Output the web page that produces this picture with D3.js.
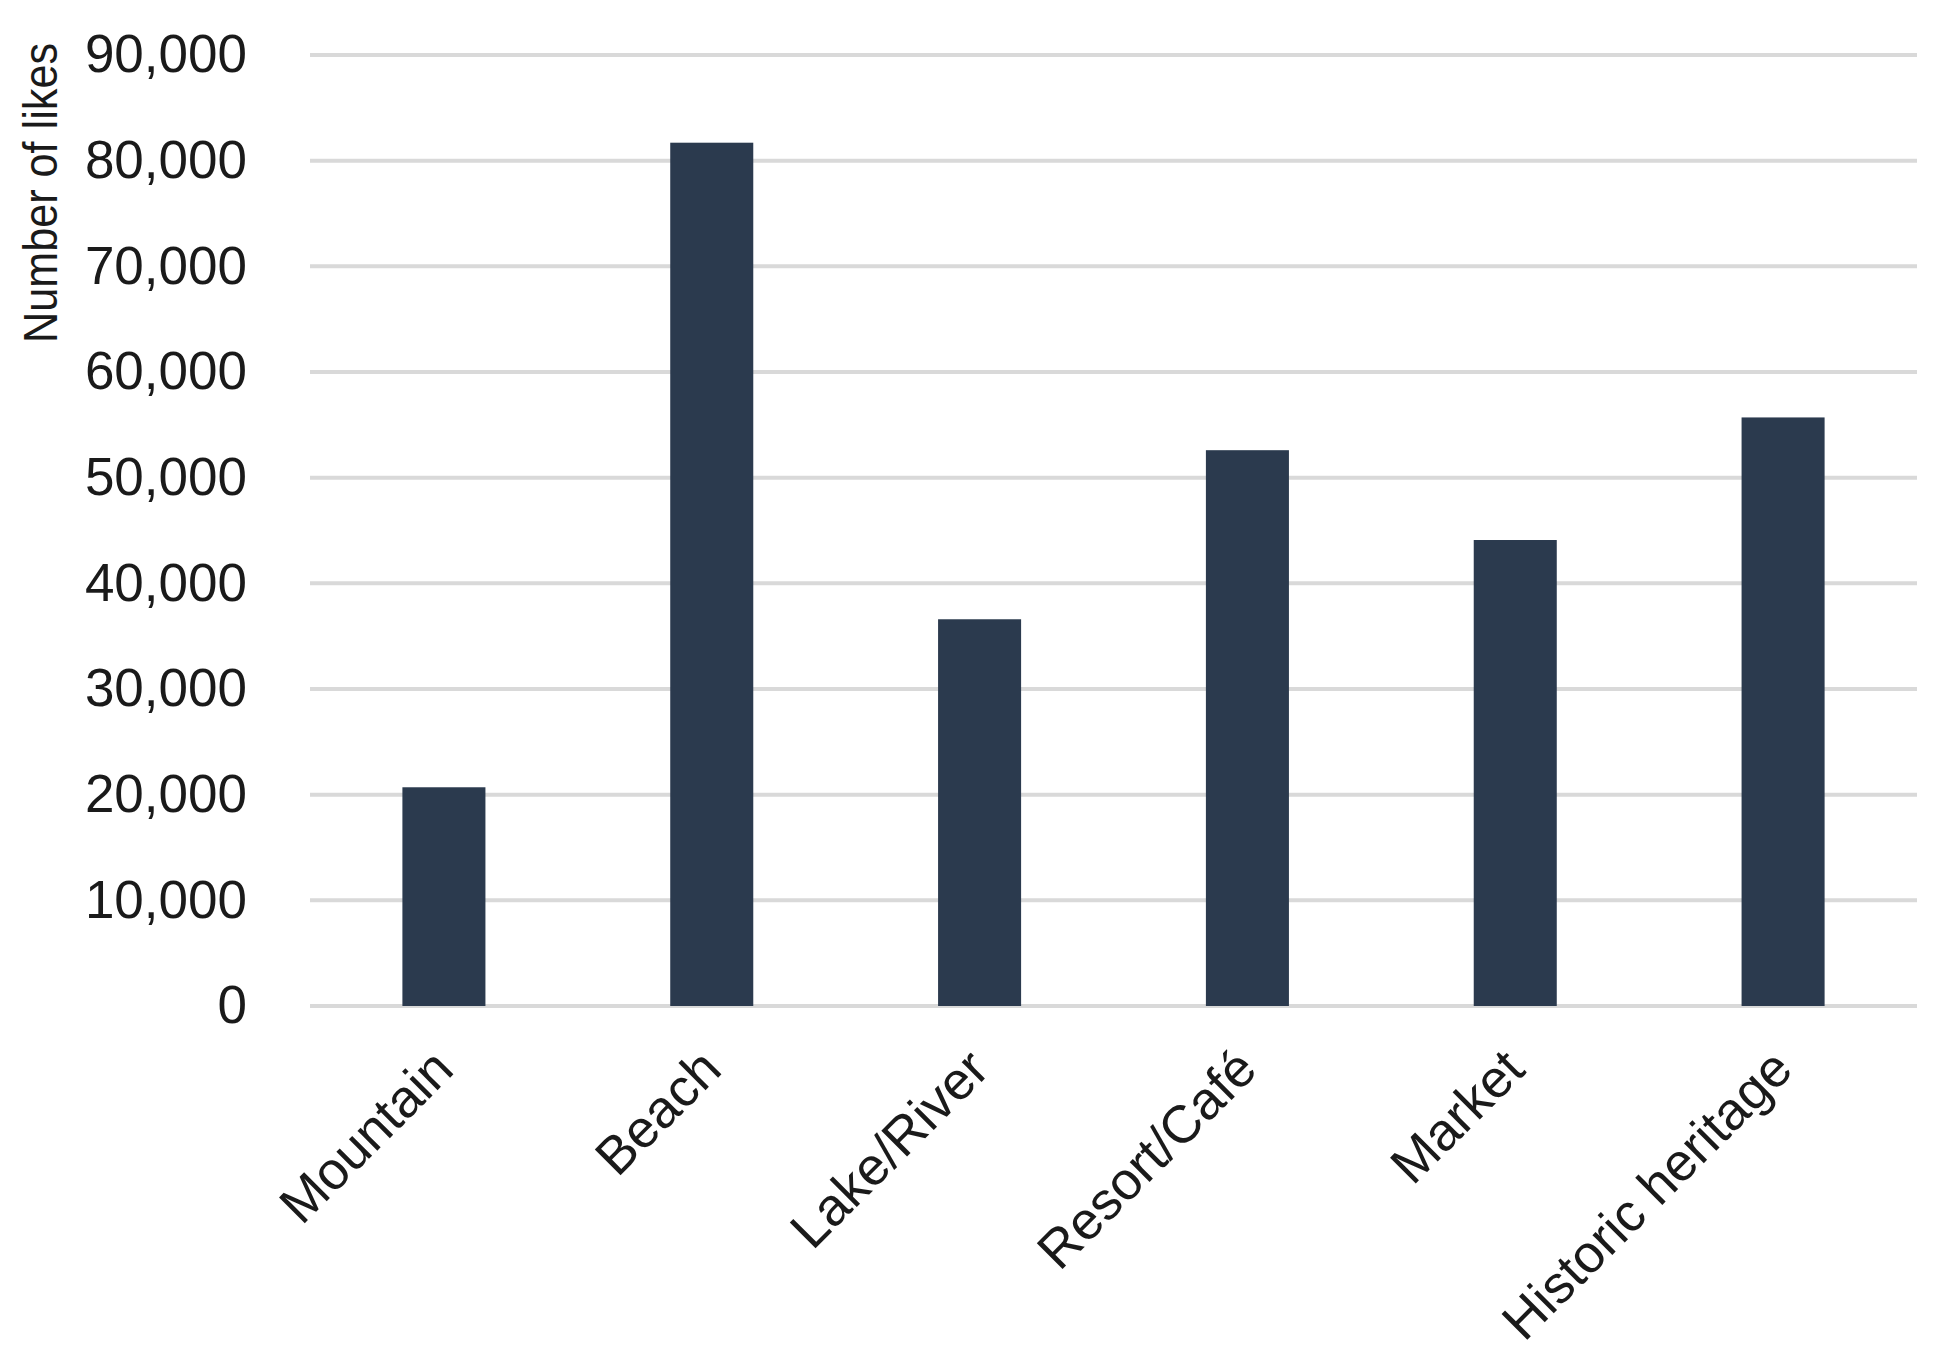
<!DOCTYPE html>
<html>
<head>
<meta charset="utf-8">
<script src="https://cdn.jsdelivr.net/npm/d3@7"></script>
<style>
  html, body { margin: 0; padding: 0; background: #fff; }
  svg text { font-family: "Liberation Sans", Arial, sans-serif; fill: #1a1a1a; }
</style>
</head>
<body>
<svg id="chart" width="1942" height="1363"></svg>
<script>
// data
const categories = ["Mountain", "Beach", "Lake/River", "Resort/Café", "Market", "Historic heritage"];
const likes = [20700, 81700, 36600, 52600, 44100, 55700];
const yTicks = [0, 10000, 20000, 30000, 40000, 50000, 60000, 70000, 80000, 90000];
const yTitle = "Number of likes";

const width = 1942;
const height = 1363;
const margin = { top: 55, right: 25, bottom: 357, left: 310 };

const svg = d3.select("#chart");
const base = svg.append("g");

const x = d3
    .scaleBand()
    .domain(categories)
    .range([margin.left, width - margin.right])
    .padding(0);

const y = d3
    .scaleLinear()
    .domain([0, 90000])
    .range([height - margin.bottom, margin.top]);

const barWidth = x.bandwidth() * 0.31;

/***
 * Gridlines
 */
base.append("g")
    .attr("class", "grid")
    .selectAll("line")
    .data(yTicks)
    .join("line")
    .attr("x1", margin.left)
    .attr("x2", width - margin.right)
    .attr("y1", d => y(d))
    .attr("y2", d => y(d))
    .attr("stroke", "#d9d9d9")
    .attr("stroke-width", 4);

/***
 * Y axis labels
 */
const fmt = d3.format(",");
base.append("g")
    .attr("class", "y-labels")
    .selectAll("text")
    .data(yTicks)
    .join("text")
    .attr("x", 247)
    .attr("y", d => y(d))
    .attr("dy", "0.33em")
    .attr("text-anchor", "end")
    .attr("font-size", 53)
    .text(d => fmt(d));

base.append("text")
    .attr("transform", "translate(57,193) rotate(-90)")
    .attr("text-anchor", "middle")
    .attr("font-size", 49)
    .attr("textLength", 300)
    .attr("lengthAdjust", "spacingAndGlyphs")
    .text(yTitle);

/***
 * Bars
 */
base.append("g")
    .attr("class", "bars")
    .selectAll("rect")
    .data(categories)
    .join("rect")
    .attr("x", (d, i) => x(d) + (x.bandwidth() - barWidth) / 2)
    .attr("y", (d, i) => y(likes[i]))
    .attr("width", barWidth)
    .attr("height", (d, i) => y(0) - y(likes[i]))
    .attr("fill", "#2b3a4e");

/***
 * X labels, rotated
 */
base.append("g")
    .attr("class", "x-labels")
    .selectAll("text")
    .data(categories)
    .join("text")
    .attr("transform", d => {
        const cx = x(d) + x.bandwidth() / 2 + 12;
        return "translate(" + cx + "," + (y(0) + 66) + ") rotate(-45)";
    })
    .attr("text-anchor", "end")
    .attr("font-size", 53)
    .text(d => d);
</script>
</body>
</html>
